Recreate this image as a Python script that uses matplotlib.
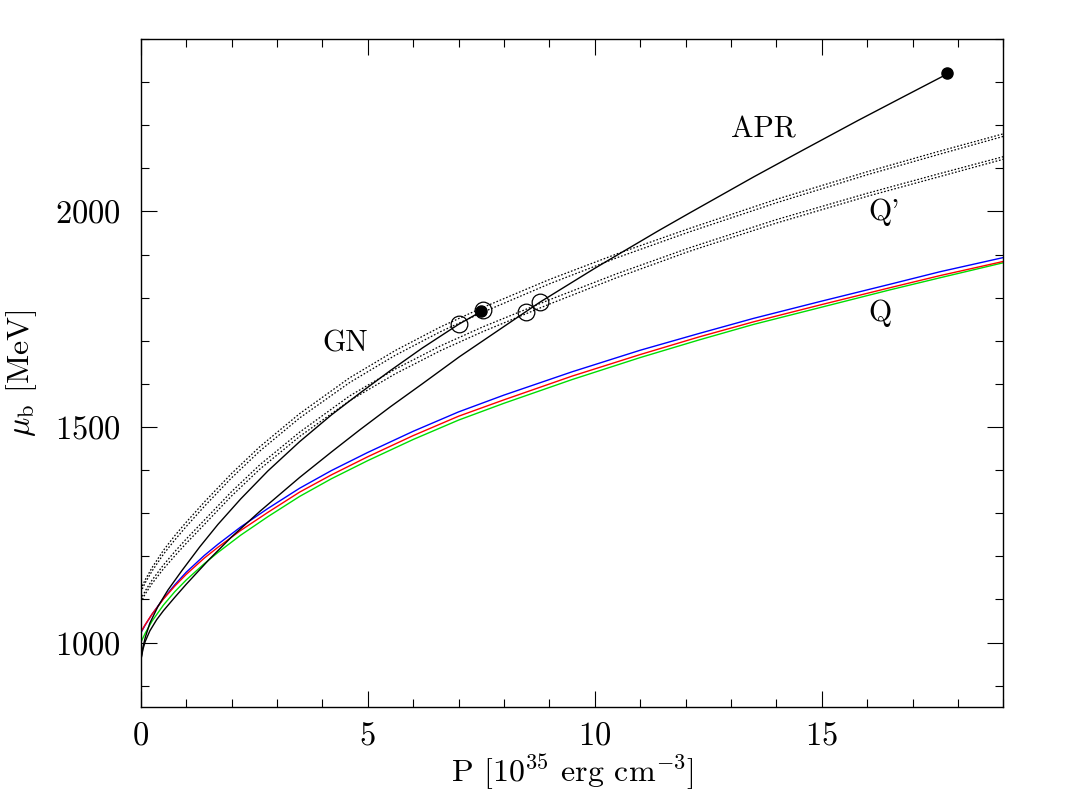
import matplotlib
matplotlib.use("Agg")
import matplotlib.pyplot as plt
import numpy as np
from matplotlib.ticker import MultipleLocator

plt.rcParams['font.family'] = 'serif'
plt.rcParams['font.serif'] = ['cmr10']
plt.rcParams['mathtext.fontset'] = 'cm'
plt.rcParams['axes.formatter.use_mathtext'] = True

# Q curves (quark matter), P in 10^35 erg/cm^3, mu_b in MeV
p_q = [0, 0.1, 0.25, 0.5, 0.75, 1.0, 1.4, 1.7, 2.2, 2.8, 3.5, 4.2, 5, 6, 7, 8, 9.5, 11, 12.3, 13.5, 15, 16.5, 17.6, 19]
mu_q_green = [1000, 1022, 1050, 1087, 1118, 1145, 1183, 1209, 1249, 1292, 1339, 1380, 1422, 1471,
              1516, 1555, 1610, 1661, 1702, 1738, 1778, 1818, 1846, 1881]
mu_q_red = [1024, 1042, 1066, 1101, 1131, 1158, 1196, 1221, 1260, 1302, 1349, 1389, 1431, 1480,
            1525, 1563, 1618, 1668, 1709, 1744, 1784, 1823, 1851, 1884]
mu_q_blue = [1022, 1041, 1066, 1102, 1134, 1163, 1202, 1228, 1268, 1311, 1358, 1399, 1441, 1490,
             1535, 1574, 1628, 1678, 1717, 1752, 1792, 1831, 1860, 1893]

# Q' curves (dotted)
p_qp = [0, 0.1, 0.25, 0.5, 0.75, 1.0, 1.41, 2.0, 2.62, 3.5, 4.6, 5.6, 6.6, 7.53, 9.0, 10.5, 12.07, 14, 16, 17.57, 19]
mu_qp_u1 = [1124, 1146, 1174, 1214, 1248, 1279, 1327, 1392, 1454, 1531, 1614, 1677, 1732, 1777,
            1842, 1902, 1960, 2028, 2092, 2139, 2180]
mu_qp_u2 = [1117, 1139, 1166, 1205, 1238, 1269, 1317, 1382, 1444, 1521, 1603, 1666, 1721, 1766,
            1832, 1893, 1952, 2020, 2085, 2132, 2174]
mu_qp_l1 = [1100, 1120, 1145, 1180, 1211, 1240, 1285, 1350, 1412, 1488, 1572, 1634, 1688, 1732,
            1795, 1856, 1915, 1981, 2042, 2087, 2127]
mu_qp_l2 = [1093, 1113, 1137, 1171, 1201, 1230, 1275, 1340, 1402, 1478, 1561, 1623, 1677, 1721,
            1785, 1847, 1907, 1973, 2035, 2080, 2121]

# hadronic EoS
p_gn = [0, 0.05, 0.1, 0.2, 0.38, 0.6, 0.9, 1.3, 1.7, 2.2, 2.8, 3.5, 4.2, 4.82, 5.5, 6.2, 7.0, 7.5]
mu_gn = [958, 990, 1012, 1045, 1084, 1122, 1166, 1222, 1274, 1333, 1398, 1466, 1528, 1578,
         1631, 1683, 1738, 1768]
p_apr = [0, 0.05, 0.1, 0.2, 0.35, 0.5, 0.75, 1.0, 1.5, 2.0, 2.62, 3.5, 4.2, 4.82, 5.5, 6.2, 7.02,
         8.0, 8.49, 8.8, 10.0, 11.4, 12.1, 13.5, 14.6, 15.8, 16.8, 17.75]
mu_apr = [958, 985, 1003, 1027, 1053, 1074, 1105, 1135, 1192, 1245, 1304, 1383, 1442, 1493,
          1547, 1600, 1663, 1733, 1768, 1790, 1868, 1955, 1997, 2080, 2143, 2211, 2266, 2318]

# crossing points (open) and end points (filled)
p_open = [7.0, 7.53, 8.49, 8.8]
mu_open = [1738.6, 1771.7, 1767.8, 1789.6]
p_end = [7.5, 17.75]
mu_end = [1768.7, 2320]

fig = plt.figure(figsize=(10.67, 7.97), dpi=100)
ax = fig.add_axes([0.1319, 0.1126, 0.8084, 0.8385])

dot = (0, (1.3, 1.5))
for mu in [mu_qp_u1, mu_qp_u2, mu_qp_l1, mu_qp_l2]:
    ax.plot(p_qp, mu, color='black', lw=0.9, linestyle=dot)

ax.plot(p_q, mu_q_green, color='#00dd00', lw=1.0)
ax.plot(p_q, mu_q_blue, color='blue', lw=1.0)
ax.plot(p_q, mu_q_red, color='red', lw=1.0)

ax.plot(p_gn, mu_gn, color='black', lw=1.0)
ax.plot(p_apr, mu_apr, color='black', lw=1.0)

ax.plot(p_open, mu_open, 'o', mfc='none', mec='black', ms=12, mew=0.9)
ax.plot(p_end, mu_end, 'o', color='black', ms=8)

ax.set_xlim(0, 19)
ax.set_ylim(850, 2400)
ax.xaxis.set_major_locator(MultipleLocator(5))
ax.xaxis.set_minor_locator(MultipleLocator(1))
ax.yaxis.set_major_locator(MultipleLocator(500))
ax.yaxis.set_minor_locator(MultipleLocator(100))
ax.tick_params(which='both', direction='in', top=True, right=True, width=0.8, labelsize=23.5)
ax.tick_params(which='major', length=11.5)
ax.tick_params(which='minor', length=6)
ax.tick_params(axis='x', pad=10)
ax.tick_params(axis='y', pad=14)
for s in ax.spines.values():
    s.set_linewidth(1.0)

ax.set_xlabel(r"P [10$^{35}$ erg cm$^{-3}$]", fontsize=23, labelpad=1)
ax.set_ylabel(r"$\mu_{\rm b}$ [MeV]", fontsize=23, labelpad=12)

ax.text(13.0, 2172, "APR", fontsize=21.5, ha='left', va='baseline')
ax.text(4.0, 1674, "GN", fontsize=21.5, ha='left', va='baseline')
ax.text(16.03, 1980, "Q'", fontsize=21.5, ha='left', va='baseline')
ax.text(16.03, 1745, "Q", fontsize=21.5, ha='left', va='baseline')

fig.savefig("out.png", dpi=100)
